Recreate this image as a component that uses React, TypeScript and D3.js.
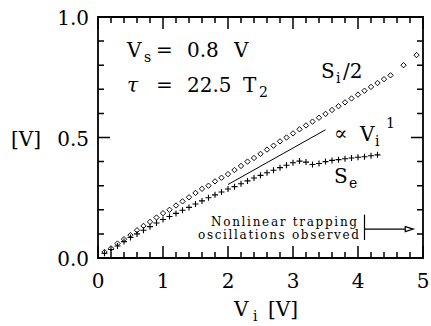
import React from "react";
import * as d3 from "d3";

// S_i / 2 (diamonds)
const siX = [0.1, 0.2, 0.3, 0.4, 0.5, 0.6, 0.7, 0.8, 0.9, 1.0, 1.1, 1.2, 1.3, 1.4, 1.5, 1.6, 1.7, 1.8, 1.9, 2.0, 2.1, 2.2, 2.3, 2.4, 2.5, 2.6, 2.7, 2.8, 2.9, 3.0, 3.1, 3.2, 3.3, 3.4, 3.5, 3.6, 3.7, 3.8, 3.9, 4.0, 4.1, 4.2, 4.3, 4.4, 4.5, 4.7, 4.9];
const siY = [0.025, 0.04, 0.06, 0.078, 0.095, 0.115, 0.133, 0.15, 0.168, 0.186, 0.2, 0.218, 0.235, 0.252, 0.27, 0.287, 0.3, 0.318, 0.333, 0.348, 0.365, 0.382, 0.4, 0.415, 0.432, 0.45, 0.466, 0.484, 0.5, 0.517, 0.534, 0.55, 0.566, 0.582, 0.598, 0.614, 0.63, 0.646, 0.662, 0.678, 0.694, 0.71, 0.726, 0.742, 0.758, 0.8, 0.842];

// S_e (crosses)
const seX = [0.1, 0.2, 0.3, 0.4, 0.5, 0.6, 0.7, 0.8, 0.9, 1.0, 1.1, 1.2, 1.3, 1.4, 1.5, 1.6, 1.7, 1.8, 1.9, 2.0, 2.1, 2.2, 2.3, 2.4, 2.5, 2.6, 2.7, 2.8, 2.9, 3.0, 3.1, 3.2, 3.3, 3.4, 3.5, 3.6, 3.7, 3.8, 3.9, 4.0, 4.1, 4.2, 4.3];
const seY = [0.02, 0.035, 0.05, 0.068, 0.085, 0.1, 0.115, 0.13, 0.145, 0.16, 0.172, 0.185, 0.198, 0.21, 0.224, 0.237, 0.25, 0.262, 0.274, 0.286, 0.296, 0.308, 0.32, 0.332, 0.343, 0.354, 0.364, 0.375, 0.385, 0.395, 0.402, 0.398, 0.388, 0.392, 0.4, 0.405, 0.408, 0.412, 0.415, 0.418, 0.42, 0.424, 0.428];

// reference line ∝ V_i
const fitX = [2.0, 3.5];
const fitY = [0.305, 0.532];

const xTicks = [0, 1, 2, 3, 4, 5];
const yTickLabels = ["0.0", "0.5", "1.0"];
const yTicks = [0, 0.5, 1.0];

const W = 431;
const H = 326;
const margin = { top: 17, right: 8, bottom: 68, left: 98 };
const font = "'DejaVu Serif', serif";

export default function App() {
  const x = d3.scaleLinear().domain([0, 5]).range([margin.left, W - margin.right]);
  const y = d3.scaleLinear().domain([0, 1]).range([H - margin.bottom, margin.top]);
  const x0 = x(0), x5 = x(5), yb = y(0), yt = y(1);

  // minor ticks every 0.2 on x, every 0.1 on y; mirrored on top and right
  const xMinor = d3.range(0, 26).map((i) => i * 0.2);
  const yMinor = d3.range(0, 11).map((i) => i * 0.1);

  let tickPath = "";
  xMinor.forEach((v, i) => {
    const len = i % 5 === 0 ? 12 : 6;
    tickPath += `M${x(v)},${yb}V${yb - len}M${x(v)},${yt}V${yt + len}`;
  });
  yMinor.forEach((v, i) => {
    const len = i % 5 === 0 ? 12 : 6;
    tickPath += `M${x0},${y(v)}H${x0 + len}M${x5},${y(v)}H${x5 - len}`;
  });

  const line = d3.line<number>().x((d, i) => x(fitX[i])).y((d) => y(d));

  const arrowX = x(4.1);
  const arrowY = y(0.12);
  const arrowEnd = x(4.85);

  return (
    <svg width={W} height={H} style={{ position: "absolute", left: 0, top: 0, background: "#fff" }} fontFamily={font}>
      <path d={tickPath} fill="none" stroke="#000" strokeWidth={1.5} />
      <path d={`M${x0},${yt}H${x5}V${yb}H${x0}Z`} fill="none" stroke="#000" strokeWidth={1.8} />

      {/* diamonds */}
      <g fill="none" stroke="#000" strokeWidth={0.9}>
        {siX.map((v, i) => (
          <rect key={i} x={-1.9} y={-1.9} width={3.8} height={3.8}
            transform={`translate(${x(v)},${y(siY[i])}) rotate(45)`} />
        ))}
      </g>
      {/* crosses */}
      <g stroke="#000" strokeWidth={1.1}>
        {seX.map((v, i) => (
          <path key={i} d={`M${x(v) - 3},${y(seY[i])}h6M${x(v)},${y(seY[i]) - 3}v6`} />
        ))}
      </g>
      <path d={line(fitY) || ""} fill="none" stroke="#000" strokeWidth={1} />

      {/* annotation arrow */}
      <g stroke="#000" strokeWidth={1.2} fill="none">
        <line x1={arrowX} x2={arrowX} y1={y(0.18)} y2={y(0.075)} />
        <line x1={arrowX} x2={arrowEnd - 7} y1={arrowY} y2={arrowY} />
        <path d={`M${arrowEnd - 8},${arrowY - 2.5} L${arrowEnd},${arrowY} L${arrowEnd - 8},${arrowY + 2.5} Z`} fill="#fff" />
      </g>
      <g fontSize={12} fill="#000" textAnchor="end">
        <text x={x(4.0) - 1} y={226} textLength={146} lengthAdjust="spacing">Nonlinear trapping</text>
        <text x={x(4.0) + 1} y={239} textLength={161} lengthAdjust="spacing">oscillations observed</text>
      </g>

      {/* tick labels */}
      <g fontSize={20} fill="#000">
        {xTicks.map((t) => (
          <text key={t} x={x(t)} y={288} textAnchor="middle">{t}</text>
        ))}
        {yTicks.map((t, i) => (
          <text key={t} x={x0 - 9} y={y(t) + 8} textAnchor="end">{yTickLabels[i]}</text>
        ))}
        <text x={11} y={y(0.5) + 8}>[V]</text>
      </g>

      <g fill="#000" fontSize={20}>
        {/* axis title */}
        <text x={234} y={316}>V</text>
        <text x={253} y={321} fontSize={14}>i</text>
        <text x={268} y={316}>[V]</text>

        {/* parameters */}
        <text x={127} y={57}>V</text>
        <text x={144} y={62} fontSize={14}>s</text>
        <text x={156} y={57}>=</text>
        <text x={187} y={57}>0.8</text>
        <text x={234} y={57}>V</text>

        <text x={127} y={92} fontStyle="italic">τ</text>
        <text x={156} y={92}>=</text>
        <text x={187} y={92}>22.5</text>
        <text x={243} y={92}>T</text>
        <text x={259} y={97} fontSize={14}>2</text>

        {/* series labels */}
        <text x={321} y={78}>S</text>
        <text x={336} y={83} fontSize={14}>i</text>
        <text x={343} y={78}>/2</text>

        <text x={334} y={140}>∝</text>
        <text x={360} y={141}>V</text>
        <text x={375} y={146} fontSize={14}>i</text>
        <text x={386} y={128} fontSize={14}>1</text>

        <text x={334} y={183}>S</text>
        <text x={349} y={188} fontSize={14}>e</text>
      </g>
    </svg>
  );
}
